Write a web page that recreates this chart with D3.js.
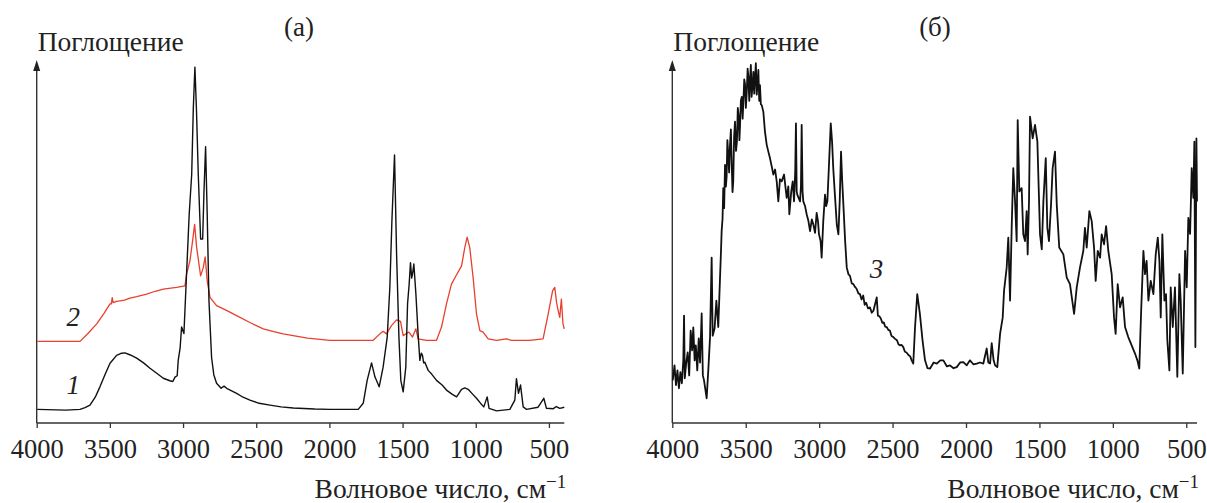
<!DOCTYPE html>
<html>
<head>
<meta charset="utf-8">
<script src="https://cdn.jsdelivr.net/npm/d3@7"></script>
<style>
  body { margin: 0; background: #fff; }
  svg text { font-family: "Liberation Serif", "DejaVu Serif", serif; fill: #222; }
</style>
</head>
<body>
<div class="chart"></div>
<script>
// spectra: [wavenumber, absorbance (arb. units)]
var spectrum1 = [
  [3996,3.8],[3800,3.6],[3704,3.8],[3670,4.3],[3636,5.0],[3600,7.2],[3568,10.1],[3530,13.8],[3499,16.7],
  [3454,18.9],[3420,19.5],[3397,19.6],[3360,19.0],[3317,18.1],[3270,16.8],[3226,15.3],[3180,13.9],
  [3135,12.5],[3090,11.8],[3070,11.6],[3055,12.8],[3040,13.2],[3033,17.5],[3020,21.0],[3010,26.8],[2994,25.0],[2976,41.7],
  [2958,58.3],[2941,69.4],[2930,87.8],[2919,99.4],[2908,87.0],[2896,69.4],[2880,51.4],[2866,51.4],[2857,64.7],
  [2846,77.2],[2835,58.3],[2823,34.2],[2805,18.3],[2790,13.5],[2771,11.1],[2740,9.7],[2720,10.3],[2702,9.7],[2634,8.3],
  [2590,7.2],[2543,6.4],[2480,5.5],[2406,5.0],[2330,4.5],[2247,4.2],[2100,3.9],[1997,3.8],[1803,3.8],[1769,5.5],[1742,11.9],[1712,16.8],
  [1689,12.9],[1660,10.1],[1633,15.6],[1605,24.0],[1587,37.9],[1573,56.4],[1555,74.9],[1541,47.2],
  [1525,24.0],[1512,11.9],[1496,8.7],[1478,15.6],[1466,33.3],[1455,38.8],[1446,44.8],[1438,40.5],[1432,41.6],
  [1423,44.4],[1409,36.0],[1394,24.9],[1382,17.5],[1372,19.5],[1364,18.9],[1356,16.8],[1348,17.0],[1325,14.7],[1300,13.6],[1268,11.9],
  [1230,10.6],[1200,9.2],[1160,8.0],[1131,7.3],[1097,9.4],[1075,9.8],[1052,9.4],[1020,8.0],[995,6.9],[965,5.4],[945,4.5],[922,7.3],[909,4.1],[858,3.4],
  [767,3.8],[733,6.4],[722,12.4],[708,8.3],[694,10.6],[676,4.5],[653,3.8],[574,4.4],[535,6.9],
  [517,4.1],[470,4.0],[450,4.6],[426,4.1],[395,4.4]
];

var spectrum2 = [
  [3996,22.8],[3704,22.8],[3650,25.0],[3590,27.7],[3540,30.6],[3499,33.3],[3490,33.3],[3484,35.0],[3478,33.6],[3454,34.0],
  [3400,34.3],[3363,34.9],[3317,35.3],[3249,36.0],[3190,36.8],[3135,37.4],[3044,37.9],[2987,38.3],[2976,41.6],[2953,45.3],
  [2935,50.8],[2921,55.5],[2907,49.0],[2880,41.1],[2862,43.4],[2849,46.4],[2835,39.7],[2816,35.1],
  [2771,32.8],[2700,31.4],[2634,30.0],[2540,28.0],[2452,26.3],[2380,25.5],[2316,24.9],[2150,23.7],[1997,23.1],[1701,23.1],[1655,24.9],[1633,25.6],
  [1610,24.9],[1576,27.2],[1541,28.8],[1514,28.4],[1496,24.4],[1457,25.4],[1432,24.0],[1409,26.3],
  [1394,23.5],[1337,23.1],[1268,23.1],[1234,26.8],[1200,33.3],[1166,38.8],[1131,41.4],[1097,43.9],
  [1075,49.0],[1059,51.9],[1041,49.0],[1018,40.6],[995,30.5],[972,25.8],[950,25.4],[915,23.5],
  [858,23.1],[790,23.5],[756,23.1],[631,23.1],[540,23.5],[505,30.5],[475,36.9],[460,37.9],
  [448,33.7],[437,31.4],[426,29.5],[415,34.6],[404,27.7],[395,26.3]
];

var spectrum3 = [
  [3997,11.9],[3985,16.1],[3975,10.6],[3965,14.7],[3955,9.7],[3945,14.2],[3935,11.1],[3925,17.5],
  [3920,30.0],[3915,12.5],[3905,16.9],[3895,19.7],[3885,13.3],[3875,25.8],[3865,20.3],[3857,26.7],
  [3848,17.5],[3840,21.7],[3830,14.7],[3820,23.6],[3811,16.9],[3800,30.6],[3792,13.3],[3784,11.9],
  [3766,6.9],[3755,14.7],[3743,24.0],[3732,46.2],[3725,24.4],[3712,26.4],[3700,34.2],[3687,26.8],
  [3675,40.6],[3668,48.5],[3664,53.6],[3658,57.0],[3653,65.6],[3647,60.0],[3641,72.1],[3635,66.0],[3630,68.9],[3625,79.0],[3620,75.8],[3613,70.0],[3607,77.7],[3601,82.0],[3595,71.7],
  [3590,64.5],[3585,67.5],[3579,80.0],[3573,84.2],[3566,76.0],[3560,78.6],[3554,88.0],[3548,85.6],[3543,79.0],[3539,82.8],[3533,90.0],[3527,91.1],[3521,85.0],[3516,89.7],[3510,96.0],[3505,94.7],
  [3499,88.0],[3493,92.5],[3487,99.0],[3482,96.7],[3476,90.0],[3471,95.7],[3465,100.0],[3460,91.1],[3454,94.0],[3448,98.1],[3442,92.0],[3437,96.2],[3431,100.5],[3425,91.7],[3419,95.0],[3414,98.6],
  [3408,90.0],[3403,94.4],[3397,89.0],[3391,88.8],[3380,86.9],[3369,81.4],[3357,77.7],[3346,75.8],[3335,74.0],[3323,71.7],
  [3312,69.4],[3300,70.8],[3289,67.5],[3278,61.9],[3267,68.1],[3255,67.5],[3239,69.4],[3221,62.9],
  [3210,66.1],[3203,58.3],[3190,64.7],[3180,67.5],[3171,61.9],[3163,70.3],[3158,83.7],[3153,64.7],
  [3149,63.8],[3130,61.9],[3124,66.1],[3119,83.3],[3113,64.7],[3108,61.9],[3096,60.6],[3085,58.3],
  [3073,56.4],[3062,53.6],[3050,56.9],[3040,55.5],[3028,53.1],[3017,58.7],[3008,56.4],[3001,52.7],
  [2990,50.8],[2983,46.2],[2972,56.4],[2960,63.8],[2952,60.6],[2944,61.9],[2932,73.1],[2921,83.7],
  [2912,78.6],[2904,71.2],[2892,63.3],[2880,55.5],[2869,52.7],[2860,61.9],[2851,75.8],[2843,67.5],
  [2835,61.0],[2823,50.8],[2812,43.4],[2800,41.5],[2790,41.1],[2778,39.0],[2767,38.8],[2756,38.0],[2745,37.5],[2733,36.2],[2722,36.0],[2711,34.5],[2700,35.6],
  [2690,33.0],[2680,33.6],[2667,32.0],[2654,32.3],[2642,30.8],[2630,31.4],[2608,35.1],[2600,30.0],[2590,29.8],[2580,29.2],[2570,28.0],[2560,28.1],[2550,26.9],[2540,26.8],
  [2529,26.0],[2518,25.8],[2507,24.3],[2495,24.0],[2483,23.5],[2470,23.1],[2460,22.0],[2450,21.7],[2438,21.8],[2427,21.2],[2416,19.9],[2405,19.7],[2392,19.0],[2380,18.6],[2370,17.5],[2359,16.6],
  [2347,26.8],[2332,36.0],[2314,30.5],[2296,23.1],[2279,17.5],[2262,15.3],[2245,15.2],[2220,16.9],
  [2199,16.6],[2175,17.5],[2154,17.5],[2130,15.8],[2109,16.1],[2085,15.3],[2063,15.6],[2040,16.9],
  [2018,17.0],[1995,16.1],[1973,17.5],[1950,16.4],[1927,16.6],[1905,16.9],[1882,16.6],[1859,20.8],
  [1848,16.9],[1836,16.6],[1825,22.3],[1812,17.5],[1802,16.1],[1787,15.6],[1768,24.9],[1750,29.5],
  [1741,36.9],[1723,43.4],[1712,51.8],[1700,34.2],[1689,54.5],[1678,71.2],[1666,61.9],[1655,50.8],
  [1648,84.6],[1637,64.7],[1621,65.6],[1610,52.7],[1598,50.8],[1587,59.2],[1580,47.1],[1571,61.9],
  [1564,85.6],[1546,79.5],[1530,83.3],[1514,78.6],[1496,52.7],[1484,48.5],[1473,61.9],[1457,74.0],
  [1446,54.5],[1435,50.8],[1421,61.0],[1410,71.2],[1394,75.8],[1382,61.0],[1365,49.0],[1337,47.1],
  [1314,40.6],[1292,38.8],[1264,30.5],[1246,37.9],[1224,43.4],[1201,48.1],[1190,54.5],[1178,49.0],
  [1160,59.2],[1144,56.4],[1128,49.0],[1117,39.7],[1103,48.1],[1087,46.2],[1076,52.7],[1060,49.9],
  [1046,55.0],[1031,48.1],[1008,41.6],[992,29.5],[981,24.9],[967,38.8],[951,32.3],[933,35.1],
  [917,26.8],[895,24.0],[872,21.7],[849,19.4],[833,17.5],[820,15.2],[808,30.5],[792,48.1],
  [781,41.6],[770,45.3],[758,34.2],[742,39.7],[724,36.0],[708,47.1],[694,51.8],[683,45.3],
  [674,29.5],[663,52.7],[649,34.2],[638,36.0],[629,23.1],[615,14.7],[606,37.9],[592,26.8],
  [577,37.9],[561,12.9],[547,41.6],[538,34.2],[524,13.8],[508,48.1],[497,37.9],[486,57.3],
  [474,52.8],[463,71.2],[452,62.9],[445,78.6],[438,21.2],[431,79.5],[427,61.9]
];

var xTicks = [4000, 3500, 3000, 2500, 2000, 1500, 1000, 500];

function init() {
    var w = 1207, h = 503;
    var top = 63, bottom = 423;

    var svg = d3.select(".chart").append("svg")
        .attr("width", w)
        .attr("height", h);

    // y is shared: arbitrary absorbance units
    var yScale = d3.scaleLinear().domain([0, 100]).range([bottom, top + 2]);

    function panel(left, right, xMin, label, series) {
        var xScale = d3.scaleLinear().domain([4000, xMin]).range([left, right]);
        var g = svg.append("g");

        // x axis
        var xAxis = d3.axisBottom(xScale)
            .tickValues(xTicks)
            .tickSize(5)
            .tickPadding(11)
            .tickFormat(d3.format("d"));
        var ax = g.append("g")
            .attr("transform", "translate(0," + bottom + ")")
            .call(xAxis);
        ax.select(".domain").attr("d", "M" + left + ",0H" + right)
            .attr("stroke", "#333").attr("stroke-width", 1.6);
        ax.selectAll(".tick line").attr("stroke", "#333").attr("stroke-width", 1.3);
        ax.selectAll(".tick text")
            .style("font-family", "'Liberation Serif', serif")
            .style("font-size", "26.5px")
            .attr("fill", "#222");

        // y axis with arrow
        g.append("line")
            .attr("x1", left).attr("x2", left)
            .attr("y1", bottom).attr("y2", top + 4)
            .attr("stroke", "#333").attr("stroke-width", 1.4);
        g.append("path")
            .attr("d", "M" + left + "," + (top - 3) + "L" + (left - 3.5) + "," + (top + 8) +
                       "L" + (left + 3.5) + "," + (top + 8) + "Z")
            .attr("fill", "#222");

        // curves
        var line = d3.line()
            .x(function(d) { return xScale(d[0]); })
            .y(function(d) { return yScale(d[1]); });

        series.forEach(function(s) {
            g.append("path")
                .datum(s.data)
                .attr("d", line)
                .attr("fill", "none")
                .attr("stroke", s.color)
                .attr("stroke-width", s.width)
                .attr("stroke-linejoin", "round");
            g.append("text")
                .attr("x", xScale(s.labelAt[0]))
                .attr("y", yScale(s.labelAt[1]))
                .attr("text-anchor", "middle")
                .style("font-size", "27px")
                .style("font-style", "italic")
                .text(s.name);
        });

        // axis titles
        g.append("text")
            .attr("x", left + 1)
            .attr("y", 51)
            .style("font-size", "27.5px")
            .text("Поглощение");

        var t = g.append("text")
            .attr("x", right + 2)
            .attr("y", 498)
            .attr("text-anchor", "end")
            .style("font-size", "27.5px");
        t.append("tspan").text("Волновое число, см");
        t.append("tspan").attr("dy", -10).style("font-size", "19px").text("−1");

        g.append("text")
            .attr("x", label.x)
            .attr("y", 36)
            .attr("text-anchor", "middle")
            .style("font-size", "27px")
            .text(label.text);
    }

    panel(36.7, 564.3, 395, { x: 299, text: "(а)" }, [
        { data: spectrum2, color: "#e8402e", width: 1.3, name: "2", labelAt: [3750, 27] },
        { data: spectrum1, color: "#111", width: 1.4, name: "1", labelAt: [3750, 8.2] }
    ]);
    panel(672.3, 1197, 427, { x: 935, text: "(б)" }, [
        { data: spectrum3, color: "#111", width: 1.8, name: "3", labelAt: [2610, 40.5] }
    ]);
}

window.onload = init;
</script>
</body>
</html>
